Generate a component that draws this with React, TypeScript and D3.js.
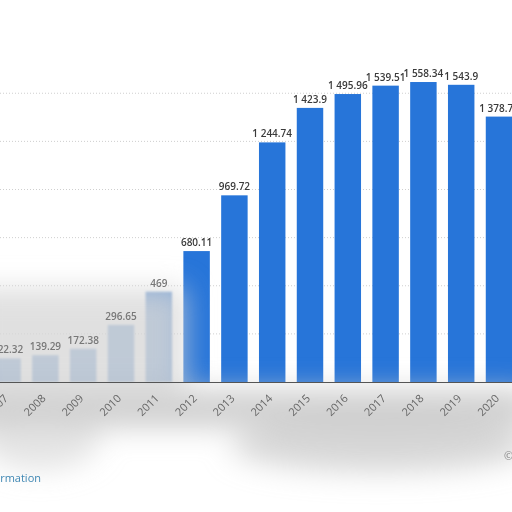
import React, { useEffect, useRef } from 'react';
import * as d3 from 'd3';

// Data
const years = ['2007', '2008', '2009', '2010', '2011', '2012', '2013', '2014', '2015', '2016', '2017', '2018', '2019', '2020'];
const values = [122.32, 139.29, 172.38, 296.65, 469, 680.11, 969.72, 1244.74, 1423.9, 1495.96, 1539.51, 1558.34, 1543.9, 1378.73];
const gridValues = [250, 500, 750, 1000, 1250, 1500];

const App: React.FC = () => {
  const svgRef = useRef<SVGSVGElement>(null);

  const width = 512;
  const height = 512;
  const baseline = 382;

  useEffect(() => {
    if (!svgRef.current) return;
    const svg = d3.select(svgRef.current);
    svg.selectAll('*').remove();

    const step = 37.8;
    const firstCenter = 7.6;
    const x = d3.scaleBand<string>()
      .domain(years)
      .range([firstCenter - step / 2, firstCenter - step / 2 + step * years.length])
      .paddingInner(0.3)
      .paddingOuter(0.15);

    const y = d3.scaleLinear()
      .domain([0, 1500])
      .range([baseline, 93.25]);

    const fmt = d3.formatLocale({ decimal: '.', thousands: ' ', grouping: [3], currency: ['', ''] }).format(',.2~f');

    const defs = svg.append('defs');
    defs.append('filter').attr('id', 'haze').attr('x', '-50%').attr('y', '-50%').attr('width', '200%').attr('height', '200%')
      .append('feGaussianBlur').attr('stdDeviation', 14);
    defs.append('filter').attr('id', 'soft')
      .append('feGaussianBlur').attr('stdDeviation', 1.2);

    svg.append('rect').attr('width', width).attr('height', height).attr('fill', '#ffffff');

    // gridlines
    svg.append('g')
      .selectAll('line')
      .data(gridValues)
      .enter()
      .append('line')
      .attr('x1', 0)
      .attr('x2', width)
      .attr('y1', d => y(d))
      .attr('y2', d => y(d))
      .style('stroke', '#cfcfcf')
      .style('stroke-width', 1)
      .style('stroke-dasharray', '1,2');

    // bars (the early years look washed out in the reference)
    svg.append('g')
      .selectAll('rect')
      .data(years)
      .enter()
      .append('rect')
      .attr('x', d => x(d)!)
      .attr('y', (d, i) => y(values[i]))
      .attr('width', x.bandwidth())
      .attr('height', (d, i) => baseline - y(values[i]))
      .attr('filter', (d, i) => i < 5 ? 'url(#soft)' : null)
      .style('fill', (d, i) => i < 5 ? '#7ea6d8' : '#2775d9');

    // hazy gray overlay
    const haze = svg.append('g').attr('filter', 'url(#haze)');
    haze.append('rect').attr('x', -30).attr('y', 288).attr('width', 215).attr('height', 100).attr('fill', '#d6d6d6').attr('opacity', 0.75);
    haze.append('rect').attr('x', -30).attr('y', 390).attr('width', 560).attr('height', 38).attr('fill', '#c8c8c8').attr('opacity', 0.85);
    haze.append('ellipse').attr('cx', 380).attr('cy', 446).attr('rx', 150).attr('ry', 26).attr('fill', '#c6c6c6').attr('opacity', 0.7);
    haze.append('ellipse').attr('cx', 40).attr('cy', 440).attr('rx', 60).attr('ry', 30).attr('fill', '#d4d4d4').attr('opacity', 0.6);

    // bottom edge line
    svg.append('line')
      .attr('x1', 0).attr('x2', width)
      .attr('y1', 506).attr('y2', 506)
      .attr('filter', 'url(#soft)')
      .style('stroke', '#b0b0b0')
      .style('stroke-width', 2);

    // axis line
    svg.append('line')
      .attr('x1', 0).attr('x2', width)
      .attr('y1', baseline + 0.5).attr('y2', baseline + 0.5)
      .style('stroke', '#555')
      .style('stroke-width', 1);

    // value labels
    svg.append('g')
      .selectAll('text')
      .data(years)
      .enter()
      .append('text')
      .attr('x', d => x(d)! + x.bandwidth() / 2)
      .attr('y', (d, i) => y(values[i]) - 5)
      .attr('text-anchor', 'middle')
      .style('font-family', '"Open Sans", sans-serif')
      .style('font-size', '10px')
      .style('font-weight', 600)
      .style('fill', (d, i) => i < 5 ? '#777' : '#3a3a3a')
      .text((d, i) => fmt(values[i]));

    // x tick labels
    svg.append('g')
      .selectAll('text')
      .data(years)
      .enter()
      .append('text')
      .attr('transform', d => `translate(${x(d)! + x.bandwidth() / 2 + 1}, ${baseline + 17}) rotate(-45)`)
      .attr('text-anchor', 'end')
      .style('font-family', '"Open Sans", sans-serif')
      .style('font-size', '11px')
      .style('fill', '#666')
      .text(d => d);

    svg.append('text')
      .attr('x', 41).attr('y', 482)
      .attr('text-anchor', 'end')
      .style('font-family', '"Open Sans", sans-serif')
      .style('font-size', '11px')
      .style('fill', '#3f87b3')
      .text('Additional Information');

    svg.append('text')
      .attr('x', 504).attr('y', 460)
      .style('font-family', '"Open Sans", sans-serif')
      .style('font-size', '11px')
      .style('fill', '#888')
      .text('© Statista 2021');
  }, []);

  return (
    <svg
      ref={svgRef}
      width={width}
      height={height}
      style={{ position: 'absolute', left: 0, top: 0, display: 'block' }}
    />
  );
};

export default App;
